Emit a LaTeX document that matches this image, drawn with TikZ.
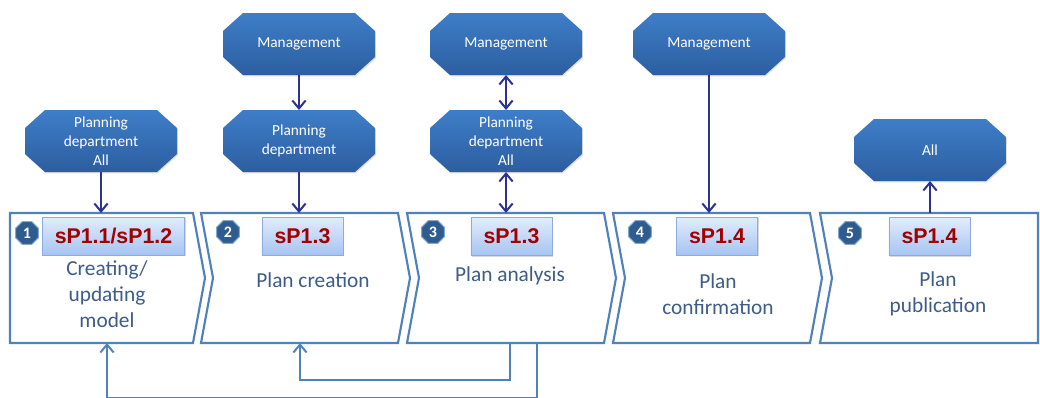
\documentclass[tikz,border=0pt]{standalone}
\usepackage{fontspec}
\setmainfont{Carlito}
\newfontfamily\codefont{Liberation Sans}
\usetikzlibrary{positioning,shapes.geometric,arrows.meta,shadows,backgrounds}

\definecolor{stageline}{RGB}{79,129,189}
\definecolor{actortop}{RGB}{62,126,200}
\definecolor{actorbottom}{RGB}{44,94,160}
\definecolor{linknavy}{RGB}{46,49,146}
\definecolor{codered}{RGB}{160,0,0}
\definecolor{codetop}{RGB}{226,236,252}
\definecolor{codebottom}{RGB}{166,196,242}
\definecolor{codeline}{RGB}{140,172,222}
\definecolor{badgeblue}{RGB}{47,92,142}
\definecolor{desctext}{RGB}{62,92,136}

\newcommand{\actorplate}[1]{\shade[actorfill] ([xshift=15pt]#1.north west) -- ([xshift=-15pt]#1.north east) -- ([yshift=-13.5pt]#1.north east) -- ([yshift=13.5pt]#1.south east) -- ([xshift=-15pt]#1.south east) -- ([xshift=15pt]#1.south west) -- ([yshift=13.5pt]#1.south west) -- ([yshift=-13.5pt]#1.north west) -- cycle;}

\begin{document}
\begin{tikzpicture}[x=0.75pt, y=-0.75pt,
	stage/.style={rectangle, draw=none, minimum height=97.5pt, inner sep=0pt, outer sep=0pt},
	stageframe/.style={draw=stageline, line width=1.6pt, fill=white},
	actor/.style={rectangle, draw=none, minimum width=114pt, minimum height=46.5pt, inner sep=0pt, outer sep=0pt, text=white, align=center, font=\fontsize{11.5}{14.25}\selectfont},
	actorfill/.style={top color=actortop, bottom color=actorbottom, drop shadow={opacity=0.25, shadow xshift=0.6pt, shadow yshift=-1pt}},
	code/.style={rectangle, top color=codetop, bottom color=codebottom, draw=codeline, line width=0.6pt, minimum height=28.5pt, inner xsep=9.5pt, text=codered, font=\codefont\bfseries\fontsize{16}{16}\selectfont, drop shadow={opacity=0.3, shadow xshift=1pt, shadow yshift=-1pt}},
	badge/.style={regular polygon, regular polygon sides=8, minimum size=18.5pt, inner sep=0pt, fill=badgeblue, draw=stageline!70!white, line width=0.7pt, text=white, font=\bfseries\fontsize{12}{12}\selectfont},
	desc/.style={align=center, text=desctext, font=\fontsize{16}{19.5}\selectfont},
	links/.style={-{Straight Barb[length=6pt, width=10pt]}, linknavy, line width=1.5pt},
	bothlinks/.style={{Straight Barb[length=6pt, width=10pt]}-{Straight Barb[length=6pt, width=10pt]}, linknavy, line width=1.5pt},
	feedback/.style={-{Straight Barb[length=6pt, width=10pt]}, stageline, line width=1.5pt}]

	\useasboundingbox (0,0) rectangle (1040,397);

	\node[stage, minimum width=137.25pt] at (101.5,278) (stage1) {};
	\node[stage, minimum width=147.75pt] at (299.5,278) (stage2) {};
	\node[stage, minimum width=147.75pt] at (505.5,278) (stage3) {};
	\node[stage, minimum width=147.75pt] at (711.5,278) (stage4) {};
	\node[stage, minimum width=163.5pt] at (929,278) (stage5) {};

	\draw[stageframe] (stage1.north west) -- (stage1.north east) -- ([xshift=9pt]stage1.east) -- (stage1.south east) -- (stage1.south west) -- cycle;
	\draw[stageframe] (stage2.north west) -- (stage2.north east) -- ([xshift=9pt]stage2.east) -- (stage2.south east) -- (stage2.south west) -- ([xshift=9pt]stage2.west) -- cycle;
	\draw[stageframe] (stage3.north west) -- (stage3.north east) -- ([xshift=9pt]stage3.east) -- (stage3.south east) -- (stage3.south west) -- ([xshift=9pt]stage3.west) -- cycle;
	\draw[stageframe] (stage4.north west) -- (stage4.north east) -- ([xshift=9pt]stage4.east) -- (stage4.south east) -- (stage4.south west) -- ([xshift=9pt]stage4.west) -- cycle;
	\draw[stageframe] (stage5.north west) -- (stage5.north east) -- (stage5.south east) -- (stage5.south west) -- ([xshift=9pt]stage5.west) -- cycle;

	\node[code] at (113.5,236) (code1) {sP1.1/sP1.2};
	\node[code] at (302.5,236) (code2) {sP1.3};
	\node[code] at (511.5,236.5) (code3) {sP1.3};
	\node[code] at (717,236) (code4) {sP1.4};
	\node[code] at (929.5,236.5) (code5) {sP1.4};

	\node[badge] at (27,233) (badge1) {1};
	\node[badge] at (228,232) (badge2) {2};
	\node[badge] at (433,232) (badge3) {3};
	\node[badge] at (640,232) (badge4) {4};
	\node[badge] at (850,233) (badge5) {5};

	\node[desc] at (107,294) (task1) {Creating/\\updating\\model};
	\node[desc] at (313,280) (task2) {Plan creation};
	\node[desc] at (510,276) (task3) {Plan analysis};
	\node[desc] at (718,294) (task4) {Plan\\confirmation};
	\node[desc] at (938,294) (task5) {Plan\\publication};

	\node[actor] at (101,141) (planning1) {Planning\\department\\All};
	\node[actor] at (299,44) (management2) {Management};
	\node[actor, below=26.25pt of management2] (planning2) {Planning\\department};
	\node[actor] at (506,44) (management3) {Management};
	\node[actor, below=26.25pt of management3] (planning3) {Planning\\department\\All};
	\node[actor] at (709,44) (management4) {Management};
	\node[actor] at (930,150) (everyone5) {All};

	\begin{pgfonlayer}{background}
		\actorplate{planning1}
		\actorplate{management2}
		\actorplate{planning2}
		\actorplate{management3}
		\actorplate{planning3}
		\actorplate{management4}
		\actorplate{everyone5}
	\end{pgfonlayer}

	\draw[links] (planning1) -- (planning1 |- stage1.north);
	\draw[links] (management2) -- (planning2);
	\draw[links] (planning2) -- (planning2 |- stage2.north);
	\draw[bothlinks] (management3) -- (planning3);
	\draw[bothlinks] (planning3) -- (planning3 |- stage3.north);
	\draw[links] (management4) -- (management4 |- stage4.north);
	\draw[links] (stage5.north -| everyone5) -- (everyone5);

	\coordinate (turn1) at (510,380);
	\coordinate (back1) at (300,380);
	\coordinate (turn2) at (537,398);
	\coordinate (back2) at (107,398);

	\draw[feedback] (stage3.south -| turn1) -- (turn1) -- (back1) -- (back1 |- stage2.south);
	\draw[feedback] (stage3.south -| turn2) -- (turn2) -- (back2) -- (back2 |- stage1.south);
\end{tikzpicture}
\end{document}
